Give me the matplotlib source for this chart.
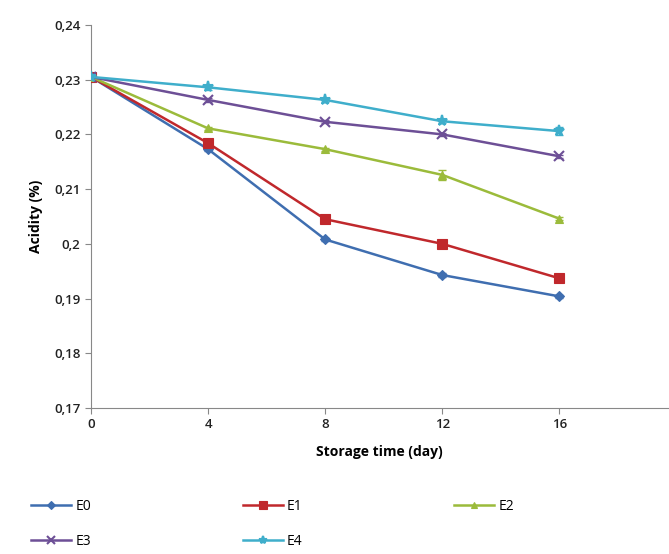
import matplotlib.pyplot as plt
from matplotlib.ticker import FuncFormatter

plt.rcParams['font.family'] = ['Open Sans', 'DejaVu Sans']

days = [0, 4, 8, 12, 16]
labels = ['E0', 'E1', 'E2', 'E3', 'E4']
e0 = [0.2305, 0.2173, 0.2008, 0.1943, 0.1904]
e1 = [0.2305, 0.2184, 0.2045, 0.2000, 0.1937]
e2 = [0.2305, 0.2211, 0.2173, 0.2126, 0.2046]
e3 = [0.2305, 0.2263, 0.2223, 0.2200, 0.2160]
e4 = [0.2305, 0.2286, 0.2263, 0.2224, 0.2206]
err0 = [0.0002, 0.0003, 0.0003, 0.0003, 0.0003]
err1 = [0.0002, 0.0004, 0.0003, 0.0006, 0.0006]
err2 = [0.0002, 0.0003, 0.0003, 0.0009, 0.0003]
err3 = [0.0002, 0.0003, 0.0003, 0.0003, 0.0003]
err4 = [0.0002, 0.0004, 0.0004, 0.0003, 0.0008]

series = [e0, e1, e2, e3, e4]
errs = [err0, err1, err2, err3, err4]
colors = ['#3F6EB0', '#C0282C', '#9BBB3B', '#6D4F96', '#3FAECB']
markers = ['D', 's', '^', 'x', '*']
msizes = [5, 7, 6, 7, 8]

fig = plt.figure(figsize=(6.69, 5.54), dpi=100)
ax = fig.add_axes([0.136, 0.2635, 0.862, 0.6915])

handles = []
for y, e, c, m, ms, lab in zip(series, errs, colors, markers, msizes, labels):
    ax.errorbar(days, y, yerr=e, fmt='none', ecolor=c, elinewidth=1, capsize=3, zorder=2)
    h, = ax.plot(days, y, color=c, marker=m, markersize=ms, lw=1.8,
                 markeredgewidth=1.5 if m in 'x*' else 0.8, label=lab, zorder=3)
    handles.append(h)

ax.set_xlim(0, 19.7)
ax.set_ylim(0.17, 0.24)
ax.set_xticks(days)
ax.set_yticks([0.17, 0.18, 0.19, 0.20, 0.21, 0.22, 0.23, 0.24])
ax.yaxis.set_major_formatter(FuncFormatter(lambda v, p: ('%g' % round(v, 2)).replace('.', ',')))

for s in ['top', 'right']:
    ax.spines[s].set_visible(False)
for s in ['left', 'bottom']:
    ax.spines[s].set_color('#888888')
ax.tick_params(colors='#888888', labelcolor='#222222', labelsize=9.5, length=4)
for t in ax.get_xticklabels() + ax.get_yticklabels():
    t.set_fontweight('semibold')

ax.set_xlabel('Storage time (day)', fontsize=10, fontweight='bold', labelpad=10)
ax.set_ylabel('Acidity (%)', fontsize=10, fontweight='bold', labelpad=8)

order = [0, 3, 1, 4, 2]
fig.legend([handles[i] for i in order], [labels[i] for i in order],
           ncol=3, loc='lower left', bbox_to_anchor=(0.036, -0.004),
           frameon=False, borderpad=0, fontsize=10, handlelength=2.9,
           handletextpad=0.3, columnspacing=10.9, labelspacing=1.45,
           markerscale=0.75)

plt.savefig('out.png')
